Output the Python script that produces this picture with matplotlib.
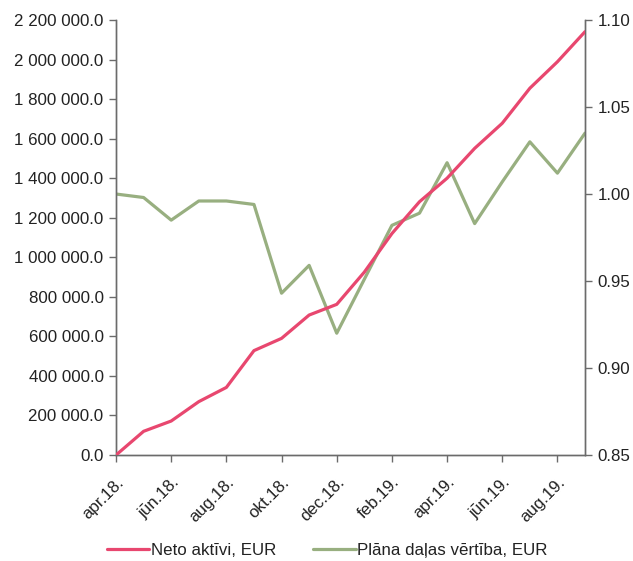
import matplotlib
matplotlib.use("Agg")
import matplotlib.pyplot as plt
from matplotlib.ticker import FuncFormatter, MultipleLocator

months = ["apr.18.", "mai.18.", "jūn.18.", "jūl.18.", "aug.18.", "sep.18.",
          "okt.18.", "nov.18.", "dec.18.", "jan.19.", "feb.19.", "mar.19.",
          "apr.19.", "mai.19.", "jūn.19.", "jūl.19.", "aug.19.", "sep.19."]

net_assets = [0, 120000, 172000, 270000, 342000, 528000,
              590000, 708000, 762000, 925000, 1120000, 1281000,
              1400000, 1551000, 1678000, 1855000, 1989000, 2141000]

unit_value = [1.000, 0.998, 0.985, 0.996, 0.996, 0.994,
              0.943, 0.959, 0.920, 0.951, 0.982, 0.989,
              1.018, 0.983, 1.007, 1.030, 1.012, 1.035]

RED = "#E8476F"
GREEN = "#98AF80"
SPINE = "#6b6b6b"

plt.rcParams.update({
    "font.family": ["Liberation Sans", "DejaVu Sans"],
    "font.size": 12.2,
    "text.color": "#222222",
    "xtick.color": SPINE,
    "ytick.color": SPINE,
    "xtick.labelcolor": "#222222",
    "ytick.labelcolor": "#222222",
})

fig = plt.figure(figsize=(6.33, 5.61), dpi=100)
ax = fig.add_axes([0.1833, 0.1889, 0.7409, 0.7754])
ax2 = ax.twinx()

x = list(range(len(months)))
l1, = ax.plot(x, net_assets, color=RED, lw=2.3, solid_capstyle="round",
              label="Neto aktīvi, EUR", zorder=3)
l2, = ax2.plot(x, unit_value, color=GREEN, lw=2.3, solid_capstyle="round",
               label="Plāna daļas vērtība, EUR", zorder=2)

ax.set_xlim(0, len(months) - 1)
ax.set_ylim(0, 2200000)
ax.yaxis.set_major_locator(MultipleLocator(200000))
ax.yaxis.set_major_formatter(FuncFormatter(lambda v, p: f"{v:,.1f}".replace(",", " ")))

ax2.set_ylim(0.85, 1.10)
ax2.yaxis.set_major_locator(MultipleLocator(0.05))
ax2.yaxis.set_major_formatter(FuncFormatter(lambda v, p: f"{v:.2f}"))

ax.set_xticks(x[::2])
ax.set_xticklabels(months[::2], rotation=45, ha="right", rotation_mode="anchor")

for a in (ax, ax2):
    a.spines["top"].set_visible(False)
    for s in ("left", "right", "bottom"):
        a.spines[s].set_color(SPINE)
        a.spines[s].set_linewidth(1.0)
    a.tick_params(length=5, width=1.0, pad=4)

ax.tick_params(axis="x", pad=9)

ax.set_zorder(ax2.get_zorder() + 1)
ax.patch.set_visible(False)

fig.legend([l1, l2], [l1.get_label(), l2.get_label()],
           loc="center", bbox_to_anchor=(0.517, 0.0196), ncol=2, frameon=False,
           handlelength=2.5, handletextpad=0.1, columnspacing=2.2,
           borderaxespad=0)

fig.savefig("out.png", dpi=100)
